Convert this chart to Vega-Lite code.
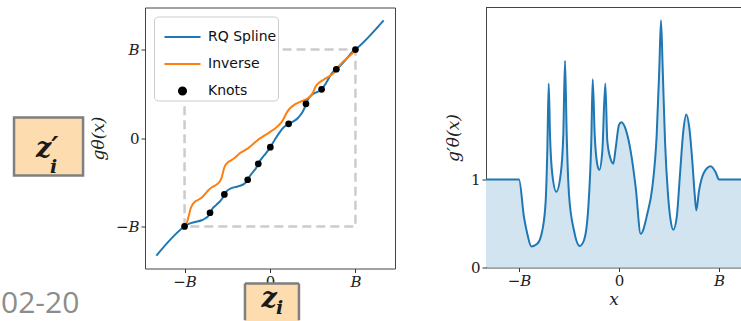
{
  "$schema": "https://vega.github.io/schema/vega-lite/v6.json",
  "padding": {"left": 0, "top": 6.5, "right": 0, "bottom": 0},
  "background": "white",
  "bounds": "flush",
  "spacing": 91,
  "config": {
    "view": {"stroke": "#444444", "strokeWidth": 1},
    "axis": {
      "grid": false, "domain": false, "tickColor": "#333333", "tickSize": 4, "tickWidth": 1,
      "labelFont": "DejaVu Serif", "labelFontSize": 15, "labelColor": "#222222", "labelPadding": 2,
      "titleFont": "DejaVu Serif", "titleFontStyle": "italic", "titleFontWeight": "normal",
      "titleFontSize": 17, "titleColor": "#222222"
    }
  },
  "hconcat": [
    {
      "width": 250,
      "height": 261,
      "layer": [
        {
          "data": {"values": [{"x0": -1, "x1": 1, "y0": -1, "y1": 1}]},
          "mark": {"type": "rect", "filled": false, "stroke": "#cccccc", "strokeWidth": 2.5, "strokeDash": [9, 5]},
          "encoding": {
            "x": {"field": "x0", "type": "quantitative",
              "scale": {"domain": [-1.463, 1.463], "nice": false, "zero": false},
              "axis": {"values": [-1, 0, 1], "title": null,
                "labelExpr": "datum.value == 1 ? 'B' : datum.value == -1 ? '−B' : '0'",
                "labelFontStyle": {"condition": {"test": "datum.value == 0", "value": "normal"}, "value": "italic"}}},
            "x2": {"field": "x1"},
            "y": {"field": "y0", "type": "quantitative",
              "scale": {"domain": [-1.475, 1.475], "nice": false, "zero": false},
              "axis": {"values": [-1, 0, 1], "title": "gθ(x)", "titlePadding": 8,
                "labelExpr": "datum.value == 1 ? 'B' : datum.value == -1 ? '−B' : '0'",
                "labelFontStyle": {"condition": {"test": "datum.value == 0", "value": "normal"}, "value": "italic"}}},
            "y2": {"field": "y1"}
          }
        },
        {
          "data": {"values": [
            {"series": "RQ Spline", "x": -1.33, "y": -1.33},
            {"series": "RQ Spline", "x": -1, "y": -1},
            {"series": "RQ Spline", "x": -0.95, "y": -0.97},
            {"series": "RQ Spline", "x": -0.877, "y": -0.95},
            {"series": "RQ Spline", "x": -0.8, "y": -0.93},
            {"series": "RQ Spline", "x": -0.75, "y": -0.905},
            {"series": "RQ Spline", "x": -0.72, "y": -0.878},
            {"series": "RQ Spline", "x": -0.702, "y": -0.845},
            {"series": "RQ Spline", "x": -0.667, "y": -0.791},
            {"series": "RQ Spline", "x": -0.627, "y": -0.754},
            {"series": "RQ Spline", "x": -0.583, "y": -0.713},
            {"series": "RQ Spline", "x": -0.557, "y": -0.68},
            {"series": "RQ Spline", "x": -0.534, "y": -0.638},
            {"series": "RQ Spline", "x": -0.523, "y": -0.62},
            {"series": "RQ Spline", "x": -0.5, "y": -0.595},
            {"series": "RQ Spline", "x": -0.45, "y": -0.567},
            {"series": "RQ Spline", "x": -0.393, "y": -0.551},
            {"series": "RQ Spline", "x": -0.35, "y": -0.54},
            {"series": "RQ Spline", "x": -0.307, "y": -0.522},
            {"series": "RQ Spline", "x": -0.277, "y": -0.495},
            {"series": "RQ Spline", "x": -0.261, "y": -0.472},
            {"series": "RQ Spline", "x": -0.243, "y": -0.44},
            {"series": "RQ Spline", "x": -0.217, "y": -0.405},
            {"series": "RQ Spline", "x": -0.197, "y": -0.382},
            {"series": "RQ Spline", "x": -0.167, "y": -0.346},
            {"series": "RQ Spline", "x": -0.137, "y": -0.292},
            {"series": "RQ Spline", "x": -0.117, "y": -0.258},
            {"series": "RQ Spline", "x": -0.083, "y": -0.214},
            {"series": "RQ Spline", "x": -0.057, "y": -0.184},
            {"series": "RQ Spline", "x": -0.033, "y": -0.155},
            {"series": "RQ Spline", "x": 0.004, "y": -0.104},
            {"series": "RQ Spline", "x": 0.023, "y": -0.073},
            {"series": "RQ Spline", "x": 0.067, "y": -0.002},
            {"series": "RQ Spline", "x": 0.117, "y": 0.07},
            {"series": "RQ Spline", "x": 0.167, "y": 0.126},
            {"series": "RQ Spline", "x": 0.218, "y": 0.16},
            {"series": "RQ Spline", "x": 0.283, "y": 0.193},
            {"series": "RQ Spline", "x": 0.333, "y": 0.232},
            {"series": "RQ Spline", "x": 0.377, "y": 0.287},
            {"series": "RQ Spline", "x": 0.403, "y": 0.338},
            {"series": "RQ Spline", "x": 0.421, "y": 0.386},
            {"series": "RQ Spline", "x": 0.437, "y": 0.421},
            {"series": "RQ Spline", "x": 0.46, "y": 0.459},
            {"series": "RQ Spline", "x": 0.49, "y": 0.489},
            {"series": "RQ Spline", "x": 0.517, "y": 0.505},
            {"series": "RQ Spline", "x": 0.543, "y": 0.516},
            {"series": "RQ Spline", "x": 0.577, "y": 0.531},
            {"series": "RQ Spline", "x": 0.604, "y": 0.55},
            {"series": "RQ Spline", "x": 0.643, "y": 0.601},
            {"series": "RQ Spline", "x": 0.673, "y": 0.651},
            {"series": "RQ Spline", "x": 0.703, "y": 0.701},
            {"series": "RQ Spline", "x": 0.733, "y": 0.743},
            {"series": "RQ Spline", "x": 0.757, "y": 0.767},
            {"series": "RQ Spline", "x": 0.776, "y": 0.777},
            {"series": "RQ Spline", "x": 0.8, "y": 0.795},
            {"series": "RQ Spline", "x": 0.85, "y": 0.844},
            {"series": "RQ Spline", "x": 0.917, "y": 0.919},
            {"series": "RQ Spline", "x": 0.967, "y": 0.975},
            {"series": "RQ Spline", "x": 1, "y": 1},
            {"series": "RQ Spline", "x": 1.33, "y": 1.33},
            {"series": "Inverse", "x": -1, "y": -1},
            {"series": "Inverse", "x": -0.97, "y": -0.95},
            {"series": "Inverse", "x": -0.95, "y": -0.877},
            {"series": "Inverse", "x": -0.93, "y": -0.8},
            {"series": "Inverse", "x": -0.905, "y": -0.75},
            {"series": "Inverse", "x": -0.878, "y": -0.72},
            {"series": "Inverse", "x": -0.845, "y": -0.702},
            {"series": "Inverse", "x": -0.791, "y": -0.667},
            {"series": "Inverse", "x": -0.754, "y": -0.627},
            {"series": "Inverse", "x": -0.713, "y": -0.583},
            {"series": "Inverse", "x": -0.68, "y": -0.557},
            {"series": "Inverse", "x": -0.638, "y": -0.534},
            {"series": "Inverse", "x": -0.62, "y": -0.523},
            {"series": "Inverse", "x": -0.595, "y": -0.5},
            {"series": "Inverse", "x": -0.567, "y": -0.45},
            {"series": "Inverse", "x": -0.551, "y": -0.393},
            {"series": "Inverse", "x": -0.54, "y": -0.35},
            {"series": "Inverse", "x": -0.522, "y": -0.307},
            {"series": "Inverse", "x": -0.495, "y": -0.277},
            {"series": "Inverse", "x": -0.472, "y": -0.261},
            {"series": "Inverse", "x": -0.44, "y": -0.243},
            {"series": "Inverse", "x": -0.405, "y": -0.217},
            {"series": "Inverse", "x": -0.382, "y": -0.197},
            {"series": "Inverse", "x": -0.346, "y": -0.167},
            {"series": "Inverse", "x": -0.292, "y": -0.137},
            {"series": "Inverse", "x": -0.258, "y": -0.117},
            {"series": "Inverse", "x": -0.214, "y": -0.083},
            {"series": "Inverse", "x": -0.184, "y": -0.057},
            {"series": "Inverse", "x": -0.155, "y": -0.033},
            {"series": "Inverse", "x": -0.104, "y": 0.004},
            {"series": "Inverse", "x": -0.073, "y": 0.023},
            {"series": "Inverse", "x": -0.002, "y": 0.067},
            {"series": "Inverse", "x": 0.07, "y": 0.117},
            {"series": "Inverse", "x": 0.126, "y": 0.167},
            {"series": "Inverse", "x": 0.16, "y": 0.218},
            {"series": "Inverse", "x": 0.193, "y": 0.283},
            {"series": "Inverse", "x": 0.232, "y": 0.333},
            {"series": "Inverse", "x": 0.287, "y": 0.377},
            {"series": "Inverse", "x": 0.338, "y": 0.403},
            {"series": "Inverse", "x": 0.386, "y": 0.421},
            {"series": "Inverse", "x": 0.421, "y": 0.437},
            {"series": "Inverse", "x": 0.459, "y": 0.46},
            {"series": "Inverse", "x": 0.489, "y": 0.49},
            {"series": "Inverse", "x": 0.505, "y": 0.517},
            {"series": "Inverse", "x": 0.516, "y": 0.543},
            {"series": "Inverse", "x": 0.531, "y": 0.577},
            {"series": "Inverse", "x": 0.55, "y": 0.604},
            {"series": "Inverse", "x": 0.601, "y": 0.643},
            {"series": "Inverse", "x": 0.651, "y": 0.673},
            {"series": "Inverse", "x": 0.701, "y": 0.703},
            {"series": "Inverse", "x": 0.743, "y": 0.733},
            {"series": "Inverse", "x": 0.767, "y": 0.757},
            {"series": "Inverse", "x": 0.777, "y": 0.776},
            {"series": "Inverse", "x": 0.795, "y": 0.8},
            {"series": "Inverse", "x": 0.844, "y": 0.85},
            {"series": "Inverse", "x": 0.919, "y": 0.917},
            {"series": "Inverse", "x": 0.975, "y": 0.967},
            {"series": "Inverse", "x": 1, "y": 1}
          ]},
          "mark": {"type": "line", "strokeWidth": 2, "interpolate": "monotone"},
          "encoding": {
            "x": {"field": "x", "type": "quantitative"},
            "y": {"field": "y", "type": "quantitative"},
            "color": {"field": "series", "type": "nominal",
              "scale": {"domain": ["RQ Spline", "Inverse", "Knots"], "range": ["#1f77b4", "#ff7f0e", "#000000"]},
              "legend": {
                "title": null, "orient": "top-left", "offset": 9,
                "fillColor": "white", "strokeColor": "#cccccc", "cornerRadius": 4, "padding": 1,
                "labelFont": "DejaVu Sans", "labelFontSize": 14, "labelColor": "#111111",
                "labelOffset": 6, "rowPadding": -6, "symbolSize": 400, "symbolOffset": 8,
                "symbolStrokeWidth": 2, "symbolType": "stroke",
                "encode": {"symbols": {"update": {
                  "shape": {"signal": "datum.value === 'Knots' ? 'circle' : 'stroke'"},
                  "size": {"signal": "datum.value === 'Knots' ? 50 : 1300"},
                  "fill": {"signal": "datum.value === 'Knots' ? '#000000' : 'transparent'"},
                  "stroke": {"signal": "datum.value === 'RQ Spline' ? '#1f77b4' : datum.value === 'Inverse' ? '#ff7f0e' : 'transparent'"},
                  "strokeWidth": {"value": 2},
                  "opacity": {"value": 1}
                }}}
              }},
            "order": {"field": "x", "type": "quantitative"}
          }
        },
        {
          "data": {"values": [
            {"x": -1, "y": -1}, {"x": -0.702, "y": -0.845}, {"x": -0.534, "y": -0.638},
            {"x": -0.261, "y": -0.472}, {"x": -0.137, "y": -0.292}, {"x": 0.004, "y": -0.104},
            {"x": 0.218, "y": 0.16}, {"x": 0.421, "y": 0.386}, {"x": 0.604, "y": 0.55},
            {"x": 0.776, "y": 0.777}, {"x": 1, "y": 1}
          ]},
          "mark": {"type": "point", "filled": true, "size": 45, "opacity": 1},
          "encoding": {
            "x": {"field": "x", "type": "quantitative"},
            "y": {"field": "y", "type": "quantitative"},
            "color": {"datum": "Knots"}
          }
        },
        {
          "data": {"values": [{"x0": -2.996, "x1": -2.188, "y0": 0.232, "y1": -0.424}]},
          "mark": {"type": "rect", "fill": "#fddcb0", "stroke": "#7f7f7f", "strokeWidth": 2.5, "clip": false},
          "encoding": {
            "x": {"field": "x0", "type": "quantitative"}, "x2": {"field": "x1"},
            "y": {"field": "y0", "type": "quantitative"}, "y2": {"field": "y1"}
          }
        },
        {
          "data": {"values": [{"x0": -0.293, "x1": 0.339, "y0": -1.644, "y1": -2.073}]},
          "mark": {"type": "rect", "fill": "#fddcb0", "clip": false},
          "encoding": {
            "x": {"field": "x0", "type": "quantitative"}, "x2": {"field": "x1"},
            "y": {"field": "y0", "type": "quantitative"}, "y2": {"field": "y1"}
          }
        },
        {
          "data": {"values": [
            {"x0": -0.293, "y0": -1.644, "x1": -0.293, "y1": -2.06},
            {"x0": -0.293, "y0": -1.644, "x1": 0.339, "y1": -1.644},
            {"x0": 0.339, "y0": -1.644, "x1": 0.339, "y1": -2.06}
          ]},
          "mark": {"type": "rule", "stroke": "#7f7f7f", "strokeWidth": 2.5, "clip": false},
          "encoding": {
            "x": {"field": "x0", "type": "quantitative"}, "x2": {"field": "x1"},
            "y": {"field": "y0", "type": "quantitative"}, "y2": {"field": "y1"}
          }
        },
        {
          "data": {"values": [{"t": "z′", "x": -2.74, "y": -0.22}, {"t": "z", "x": -0.1, "y": -1.915}]},
          "mark": {"type": "text", "align": "left", "baseline": "alphabetic", "font": "DejaVu Serif", "fontStyle": "italic", "fontWeight": "bold", "fontSize": 27, "color": "#1a1a1a", "clip": false},
          "encoding": {
            "x": {"field": "x", "type": "quantitative"}, "y": {"field": "y", "type": "quantitative"},
            "text": {"field": "t"}
          }
        },
        {
          "data": {"values": [{"t": "i", "x": -2.575, "y": -0.401}, {"t": "i", "x": 0.07, "y": -1.994}]},
          "mark": {"type": "text", "align": "left", "baseline": "alphabetic", "font": "DejaVu Serif", "fontStyle": "italic", "fontWeight": "bold", "fontSize": 19, "color": "#1a1a1a", "clip": false},
          "encoding": {
            "x": {"field": "x", "type": "quantitative"}, "y": {"field": "y", "type": "quantitative"},
            "text": {"field": "t"}
          }
        },
        {
          "data": {"values": [{"t": "02-20", "x": -3.148, "y": -1.977}]},
          "mark": {"type": "text", "align": "left", "baseline": "alphabetic", "font": "Open Sans", "fontSize": 30, "color": "#8c8c8c", "clip": false},
          "encoding": {
            "x": {"field": "x", "type": "quantitative"}, "y": {"field": "y", "type": "quantitative"},
            "text": {"field": "t"}
          }
        }
      ]
    },
    {
      "width": 255,
      "height": 260,
      "view": {"stroke": null},
      "layer": [
        {
          "data": {"name": "deriv", "values": [
            {"x": -1.333, "d": 1}, {"x": -1, "d": 1}, {"x": -0.95, "d": 0.571}, {"x": -0.917, "d": 0.383},
            {"x": -0.877, "d": 0.24}, {"x": -0.817, "d": 0.27}, {"x": -0.767, "d": 0.42}, {"x": -0.733, "d": 0.76},
            {"x": -0.717, "d": 1.32}, {"x": -0.703, "d": 2.09}, {"x": -0.69, "d": 1.51}, {"x": -0.667, "d": 1.06},
            {"x": -0.627, "d": 0.86}, {"x": -0.583, "d": 1.06}, {"x": -0.557, "d": 1.51}, {"x": -0.54, "d": 2.35},
            {"x": -0.523, "d": 1.51}, {"x": -0.5, "d": 0.83}, {"x": -0.45, "d": 0.42}, {"x": -0.393, "d": 0.244},
            {"x": -0.35, "d": 0.31}, {"x": -0.307, "d": 0.68}, {"x": -0.277, "d": 1.44}, {"x": -0.263, "d": 2.14},
            {"x": -0.243, "d": 1.51}, {"x": -0.217, "d": 1.17}, {"x": -0.197, "d": 1.11}, {"x": -0.167, "d": 1.32},
            {"x": -0.137, "d": 2.09}, {"x": -0.117, "d": 1.44}, {"x": -0.083, "d": 1.23}, {"x": -0.057, "d": 1.18},
            {"x": -0.033, "d": 1.36}, {"x": 0, "d": 1.62}, {"x": 0.023, "d": 1.65}, {"x": 0.067, "d": 1.57},
            {"x": 0.117, "d": 1.32}, {"x": 0.167, "d": 0.91}, {"x": 0.217, "d": 0.383}, {"x": 0.283, "d": 0.61},
            {"x": 0.333, "d": 0.91}, {"x": 0.377, "d": 1.51}, {"x": 0.403, "d": 2.26}, {"x": 0.42, "d": 2.81},
            {"x": 0.437, "d": 2.26}, {"x": 0.46, "d": 1.44}, {"x": 0.49, "d": 0.83}, {"x": 0.517, "d": 0.53},
            {"x": 0.543, "d": 0.43}, {"x": 0.577, "d": 0.57}, {"x": 0.61, "d": 1.06}, {"x": 0.643, "d": 1.55},
            {"x": 0.673, "d": 1.74}, {"x": 0.703, "d": 1.59}, {"x": 0.733, "d": 1.21}, {"x": 0.757, "d": 0.83},
            {"x": 0.773, "d": 0.65}, {"x": 0.8, "d": 0.87}, {"x": 0.85, "d": 1.08}, {"x": 0.917, "d": 1.15},
            {"x": 0.967, "d": 1.08}, {"x": 1, "d": 1}, {"x": 1.333, "d": 1}
          ]},
          "mark": {"type": "area", "color": "#d2e4f0", "interpolate": "monotone", "clip": true},
          "encoding": {
            "x": {"field": "x", "type": "quantitative",
              "scale": {"domain": [-1.33, 1.22], "nice": false, "zero": false},
              "axis": {"values": [-1, 0, 1], "title": "x", "titlePadding": 3, "domain": true, "domainColor": "#444444",
                "labelExpr": "datum.value == 1 ? 'B' : datum.value == -1 ? '−B' : '0'",
                "labelFontStyle": {"condition": {"test": "datum.value == 0", "value": "normal"}, "value": "italic"}}},
            "y": {"field": "d", "type": "quantitative",
              "scale": {"domain": [0, 2.955], "nice": false},
              "axis": {"values": [0, 1], "format": "d", "title": "g′θ(x)", "titlePadding": 8, "domain": true, "domainColor": "#444444"}}
          }
        },
        {
          "data": {"name": "deriv"},
          "mark": {"type": "line", "color": "#1f77b4", "strokeWidth": 2, "interpolate": "monotone", "clip": true},
          "encoding": {
            "x": {"field": "x", "type": "quantitative"},
            "y": {"field": "d", "type": "quantitative"}
          }
        },
        {
          "data": {"values": [{}]},
          "mark": {"type": "rule", "color": "#444444", "strokeWidth": 1},
          "encoding": {"y": {"datum": 2.955}}
        }
      ]
    }
  ]
}
